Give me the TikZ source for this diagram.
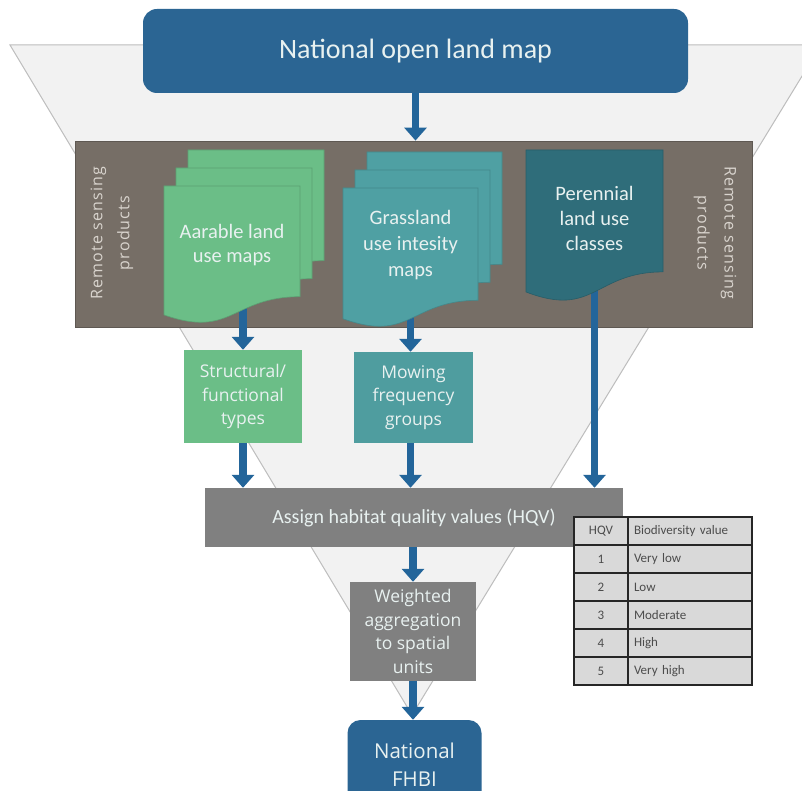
\documentclass[tikz,border=0pt]{standalone}
\usepackage{fontspec}
\setmainfont{Carlito}
\newfontfamily\osans{Open Sans}
\newfontfamily\osansls[LetterSpace=7]{Open Sans}
\usetikzlibrary{arrows.meta}
\definecolor{funfill}{HTML}{F2F2F2}
\definecolor{funedge}{HTML}{BDBDBD}
\definecolor{bandc}{HTML}{766E66}
\definecolor{bluec}{HTML}{2B6593}
\definecolor{arrowc}{HTML}{23659A}
\definecolor{greenc}{HTML}{6BBE87}
\definecolor{tealc}{HTML}{4FA0A3}
\definecolor{perc}{HTML}{2F6D7A}
\definecolor{mowc}{HTML}{4F9D9F}
\definecolor{grayc}{HTML}{808080}
\definecolor{tabc}{HTML}{D9D9D9}
\definecolor{lighttext}{HTML}{E8F1F0}
\definecolor{rstextc}{HTML}{D9D4CE}
\pgfdeclarelayer{bg}
\pgfsetlayers{bg,main}
\newcommand{\docpage}[5]{%
  \filldraw[fill=#5, draw=#5!85!black, line width=0.6pt] (#1,#2) -- ({#1+#3},#2) -- ({#1+#3},{#2+0.802*#4}) .. controls ({#1+0.5*#3},{#2+0.802*#4}) and ({#1+0.5*#3},{#2+1.108*#4}) .. (#1,{#2+0.934*#4}) -- cycle;}
\begin{document}
\begin{tikzpicture}[x=1pt,y=-1pt,
  bluebox/.style={fill=bluec, rounded corners=14pt, inner sep=0pt, text=lighttext, align=center},
  bandbox/.style={fill=bandc, draw=bandc!80!black, line width=0.8pt, inner sep=0pt, minimum width=677pt, minimum height=186pt},
  rstext/.style={text=rstextc, align=center, font=\osansls\fontsize{16}{27}\selectfont, inner sep=0pt},
  pagetext/.style={text=lighttext, align=center, inner sep=0pt, font=\fontsize{20}{25}\selectfont},
  procbox/.style={inner sep=0pt, text=lighttext, align=center, font=\osans\fontsize{17.5}{23.5}\selectfont},
  flowarrow/.style={draw=arrowc, line width=7.5pt, -{Triangle[width=22pt,length=13pt]}},
  tcell/.style={draw=black!85, line width=1.2pt, fill=tabc, minimum height=28pt, inner sep=0pt, text=black!70, font=\fontsize{13}{15}\selectfont}
]
\useasboundingbox (0,0) rectangle (802,791);
\begin{pgfonlayer}{bg}
\fill[white] (0,0) rectangle (802,791);
\filldraw[fill=funfill, draw=funedge, line width=1pt] (10,45) -- (821,45) -- (412,715) -- cycle;
\node[bandbox] (band) at (413.5,234) {};
\end{pgfonlayer}
% top box
\node[bluebox, minimum width=545pt, minimum height=84pt, font=\fontsize{28}{32}\selectfont] (olm) at (415.5,51) {National open land map};
% side texts
\node[rstext, rotate=90] (rsl) at (112,233) {Remote sensing\\products};
\node[rstext, rotate=-90] (rsr) at (715,233) {Remote sensing\\products};
% green stack
\docpage{188}{150}{136}{138}{greenc}
\docpage{176}{168}{136}{138}{greenc}
\docpage{164}{186}{136}{138}{greenc}
\node[pagetext, minimum width=136pt, minimum height=120pt, font=\fontsize{20.5}{24}\selectfont] (aar) at (232,245) {Aarable land\\use maps};
% teal stack
\docpage{367}{152}{135}{140}{tealc}
\docpage{355}{170}{135}{140}{tealc}
\docpage{343}{188}{135}{140}{tealc}
\node[pagetext, minimum width=135pt, minimum height=114pt, font=\fontsize{20.5}{26}\selectfont] (gra) at (410.5,245) {Grassland\\use intesity\\maps};
% perennial
\docpage{526}{150}{137}{152}{perc}
\node[pagetext, minimum width=137pt, minimum height=120pt, font=\fontsize{20.5}{25}\selectfont] (per) at (594.5,218) {Perennial\\land use\\classes};
% process boxes
\node[procbox, fill=greenc, minimum width=118pt, minimum height=93pt] (struct) at (243,396.5) {Structural/\\functional\\types};
\node[procbox, fill=mowc, minimum width=119pt, minimum height=91pt] (mow) at (413.5,397.5) {Mowing\\frequency\\groups};
\node[inner sep=0pt, fill=grayc, text=lighttext, minimum width=418pt, minimum height=59pt, font=\fontsize{20}{22}\selectfont] (hqv) at (414,517.5) {Assign habitat quality values (HQV)};
\node[procbox, fill=grayc, minimum width=126pt, minimum height=99pt] (wag) at (413,631.5) {Weighted\\aggregation\\to spatial\\units};
\node[bluebox, rounded corners=13pt, minimum width=134pt, minimum height=90pt, font=\osans\fontsize{20.5}{28}\selectfont] (fhbi) at (414.5,765) {National\\FHBI};
% table
\foreach \n/\v [count=\i from 0] in {HQV/Biodiversity value, 1/Very low, 2/Low, 3/Moderate, 4/High, 5/Very high}{
  \node[tcell, minimum width=54pt] (ta\i) at (601,{531+28*\i}) {\n};
  \node[tcell, text width=112pt, inner xsep=6pt, align=left] (tb\i) at (690,{531+28*\i}) {\v};
}
% arrows
\begin{pgfonlayer}{bg}
\draw[flowarrow] (olm.south) -- (olm.south |- band.north);
\draw[flowarrow] (aar.south -| struct.north) -- (struct.north);
\draw[flowarrow] (gra.south) -- (gra.south |- mow.north);
\draw[flowarrow] (per.south) -- (per.south |- hqv.north);
\draw[flowarrow] (struct.south) -- (struct.south |- hqv.north);
\draw[flowarrow] (mow.south -| gra.south) -- (gra.south |- hqv.north);
\draw[flowarrow] (hqv.south -| wag.north) -- (wag.north);
\draw[flowarrow] (wag.south) -- (wag.south |- fhbi.north);
\end{pgfonlayer}
\end{tikzpicture}
\end{document}
